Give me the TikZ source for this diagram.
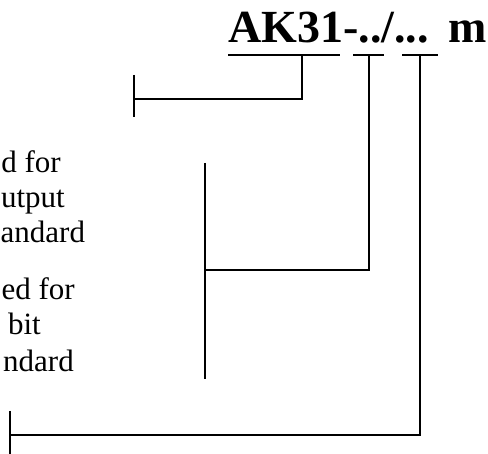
\documentclass[tikz,border=0pt]{standalone}
\usepackage{fontspec}
\setmainfont{Liberation Serif}
\begin{document}
\begin{tikzpicture}[x=1pt,y=-1pt,
  lbl/.style={inner sep=0pt,font=\fontsize{31}{36}\selectfont},
  ttl/.style={inner sep=0pt,font=\fontsize{46}{52}\selectfont\bfseries},
  ln/.style={line width=1.4pt,line cap=butt}]
\useasboundingbox (0,0) rectangle (488,454);
% title
\node[ttl,anchor=base west] (title) at (228,43) {AK31-../...};
\node[ttl,anchor=base west] (unit) at (448,43) {m};
% left texts
\node[lbl,anchor=base east] (a1) at (61,173) {d for};
\node[lbl,anchor=base east] (a2) at (65,208) {utput};
\node[lbl,anchor=base west] (a3) at (0.5,243) {andard};
\node[lbl,anchor=base east] (b1) at (75,300) {ed for};
\node[lbl,anchor=base east] (b2) at (41,335) {bit};
\node[lbl,anchor=base east] (b3) at (74,372) {ndard};
% coordinates
\coordinate (u1l) at (228,55); \coordinate (u1r) at (340,55); \coordinate (u1m) at (302,55);
\coordinate (u2l) at (353,55); \coordinate (u2r) at (384,55); \coordinate (u2m) at (369,55);
\coordinate (u3l) at (402,55); \coordinate (u3r) at (438,55); \coordinate (u3m) at (420,55);
\coordinate (t1) at (134,99); \coordinate (t1a) at (134,75); \coordinate (t1b) at (134,117);
\coordinate (t2) at (205,270); \coordinate (t2a) at (205,163); \coordinate (t2b) at (205,379);
\coordinate (t3) at (10,435); \coordinate (t3a) at (10,411); \coordinate (t3b) at (10,454);
% underlines
\draw[ln] (u1l) -- (u1r);
\draw[ln] (u2l) -- (u2r);
\draw[ln] (u3l) -- (u3r);
% leaders
\draw[ln] (u1m) |- (t1);
\draw[ln] (t1a) -- (t1b);
\draw[ln] (u2m) |- (t2);
\draw[ln] (t2a) -- (t2b);
\draw[ln] (u3m) |- (t3);
\draw[ln] (t3a) -- (t3b);
\end{tikzpicture}
\end{document}
